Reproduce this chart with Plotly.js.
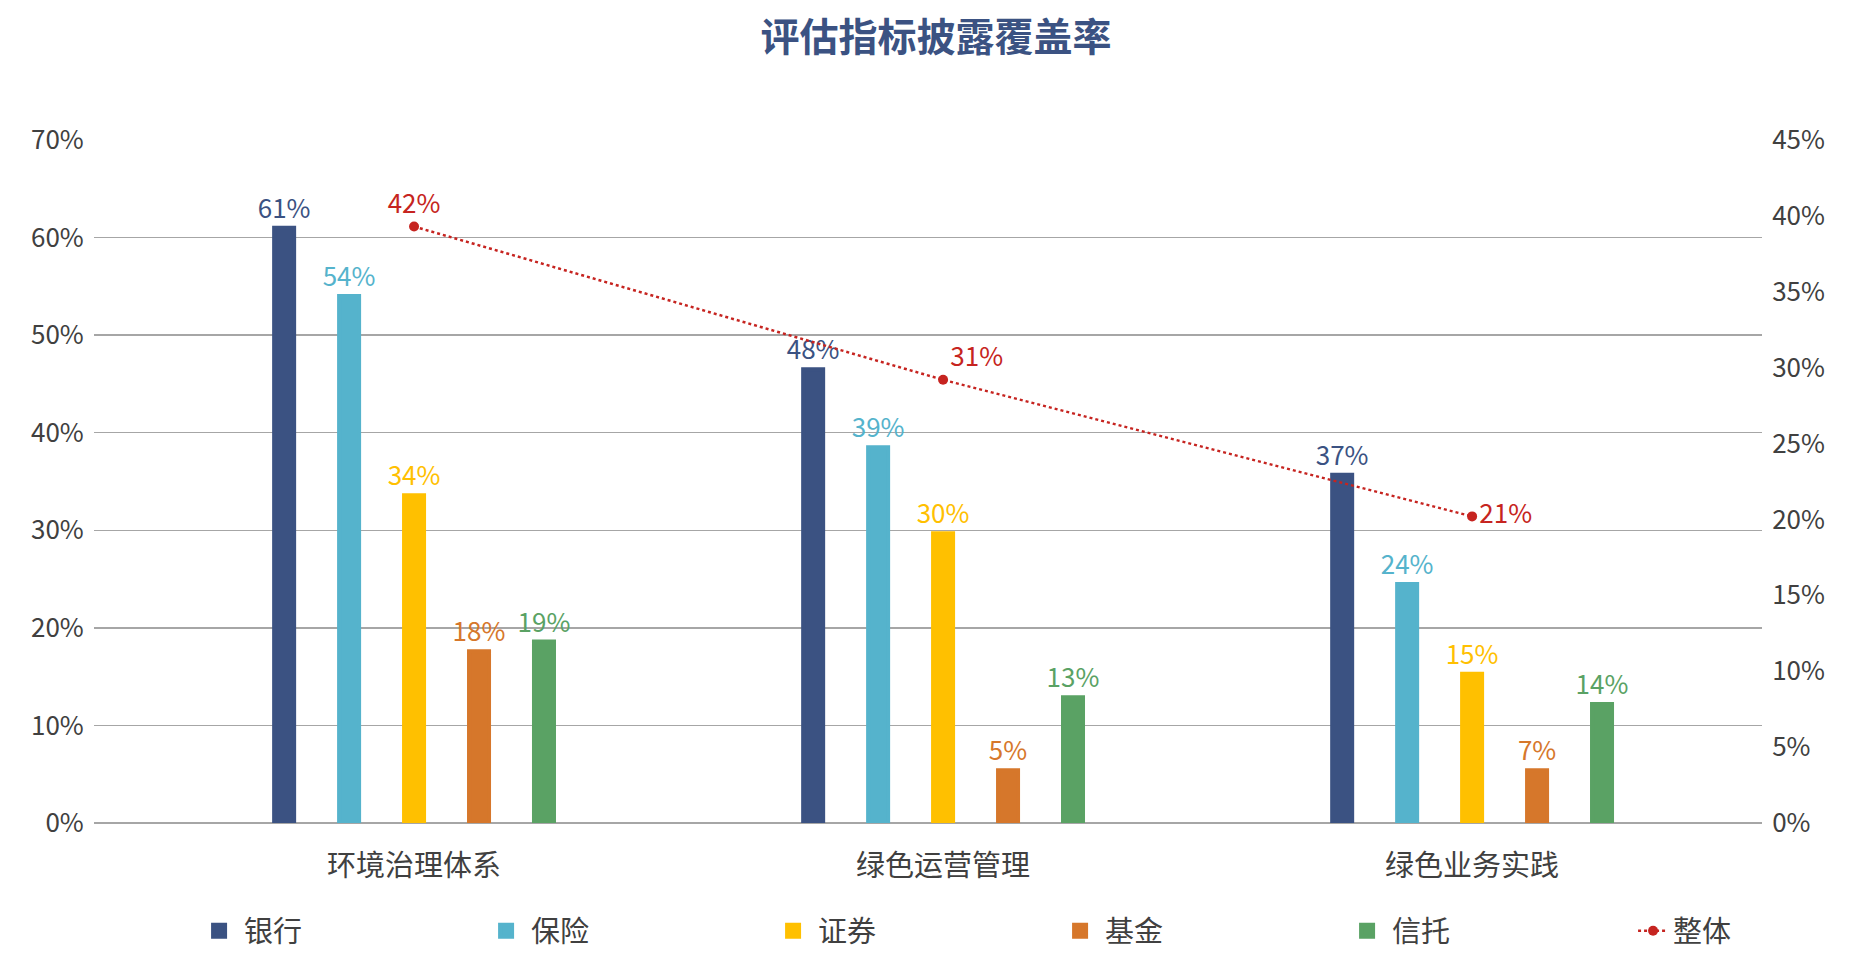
<!DOCTYPE html>
<html>
<head>
<meta charset="utf-8">
<script src="https://cdn.plot.ly/plotly-3.0.1.min.js"></script>
<style>
  html, body { margin: 0; padding: 0; background: #fff; }
  #chart { width: 1872px; height: 975px; }
</style>
</head>
<body>
<div id="chart"></div>
<script>
// categories
var categories = ['环境治理体系', '绿色运营管理', '绿色业务实践'];

// bar values (left axis, %)
var bank = [61.0, 46.5, 35.7];
var insurance = [54.0, 38.5, 24.5];
var securities = [33.6, 29.7, 15.3];
var fund = [17.6, 5.4, 5.4];
var trust = [18.6, 12.9, 12.2];
// overall line (right axis, %)
var overall = [39.3, 29.2, 20.2];

// data labels as printed on the chart
var bankText = ['61%', '48%', '37%'];
var insuranceText = ['54%', '39%', '24%'];
var securitiesText = ['34%', '30%', '15%'];
var fundText = ['18%', '5%', '7%'];
var trustText = ['19%', '13%', '14%'];
var overallText = ['42%', '31%', '21%'];

// axis ticks
var leftTicks = [0, 10, 20, 30, 40, 50, 60, 70];
var leftTickText = ['0%', '10%', '20%', '30%', '40%', '50%', '60%', '70%'];
var rightTicks = [0, 5, 10, 15, 20, 25, 30, 35, 40, 45];
var rightTickText = ['0%', '5%', '10%', '15%', '20%', '25%', '30%', '35%', '40%', '45%'];

var FONT = '"Noto Sans CJK SC", "Noto Sans", sans-serif';

function barTrace(name, y, text, color) {
    return {
        type: 'bar',
        name: name,
        x: categories,
        y: y,
        text: text,
        textposition: 'outside',
        constraintext: 'none',
        textfont: { family: FONT, size: 26, color: color },
        cliponaxis: false,
        // outline in the same colour: makes the legend square bigger
        marker: { color: color, line: { color: color, width: 4 } },
        hoverinfo: 'name+y'
    };
}

var traces = [
    barTrace('银行', bank, bankText, '#3B5282'),
    barTrace('保险', insurance, insuranceText, '#55B3CC'),
    barTrace('证券', securities, securitiesText, '#FFC000'),
    barTrace('基金', fund, fundText, '#D6772B'),
    barTrace('信托', trust, trustText, '#5AA264'),
    {
        type: 'scatter',
        name: '整体',
        legend: 'legend2',
        x: categories,
        y: overall,
        yaxis: 'y2',
        mode: 'lines+markers+text',
        text: overallText,
        textposition: ['top center', 'top right', 'middle right'],
        textfont: { family: FONT, size: 26, color: '#C62420' },
        cliponaxis: false,
        line: { color: '#C62420', width: 2.5, dash: 'dot' },
        marker: { color: '#C62420', size: 10 }
    }
];

var legendFont = { family: FONT, size: 29, color: '#404040' };

var layout = {
    width: 1872,
    height: 975,
    margin: { l: 94, r: 110, t: 140, b: 152 },
    paper_bgcolor: '#ffffff',
    plot_bgcolor: '#ffffff',
    font: { family: FONT, size: 26, color: '#404040' },
    title: {
        text: '<b>评估指标披露覆盖率</b>',
        font: { family: FONT, size: 39, color: '#3B5282' },
        x: 0.5,
        xref: 'container',
        y: 0.962,
        yanchor: 'middle'
    },
    barmode: 'group',
    bargap: 0.386,
    bargroupgap: 0.692,
    showlegend: true,
    legend: {
        orientation: 'h',
        x: 0.060,
        xanchor: 'left',
        y: -0.158,
        yanchor: 'middle',
        entrywidth: 232,
        itemwidth: 40,
        font: legendFont,
        traceorder: 'normal'
    },
    legend2: {
        orientation: 'h',
        x: 0.9227,
        xanchor: 'left',
        y: -0.158,
        yanchor: 'middle',
        font: legendFont
    },
    xaxis: {
        type: 'category',
        range: [-0.605, 2.548],
        showgrid: false,
        showline: false,
        zeroline: false,
        ticks: 'outside',
        ticklen: 17,
        tickcolor: 'rgba(0,0,0,0)',
        tickfont: { family: FONT, size: 29, color: '#404040' },
        fixedrange: true
    },
    yaxis: {
        range: [0, 70],
        tickvals: leftTicks,
        ticktext: leftTickText,
        showgrid: true,
        gridcolor: '#A6A6A6',
        gridwidth: 1.5,
        zeroline: true,
        zerolinecolor: '#A6A6A6',
        zerolinewidth: 1.5,
        showline: false,
        ticks: 'outside',
        ticklen: 4,
        tickcolor: 'rgba(0,0,0,0)',
        tickfont: { family: FONT, size: 26, color: '#404040' },
        fixedrange: true
    },
    yaxis2: {
        overlaying: 'y',
        side: 'right',
        range: [0, 45],
        tickvals: rightTicks,
        ticktext: rightTickText,
        showgrid: false,
        zeroline: false,
        showline: false,
        ticks: 'outside',
        ticklen: 4,
        tickcolor: 'rgba(0,0,0,0)',
        tickfont: { family: FONT, size: 26, color: '#404040' },
        fixedrange: true
    }
};

Plotly.newPlot('chart', traces, layout, { displayModeBar: false, staticPlot: true });
</script>
</body>
</html>
